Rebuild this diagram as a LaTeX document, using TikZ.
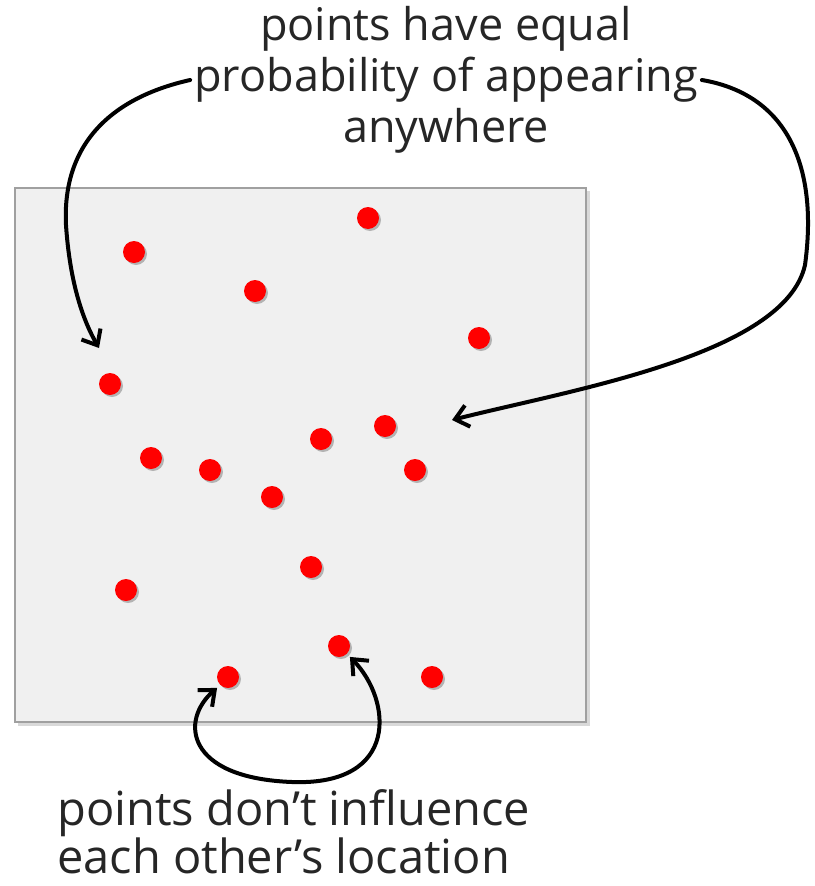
\documentclass[tikz,border=0pt]{standalone}
\usepackage{fontspec}
\setmainfont{Open Sans}
\usetikzlibrary{arrows.meta,shadows}
\begin{document}
\begin{tikzpicture}[x=1pt,y=-1pt,
  dot/.style={circle,fill=red,minimum size=22pt,inner sep=0pt,
    drop shadow={shadow xshift=2pt,shadow yshift=-2pt,opacity=0.25,fill=black}},
  arr/.style={line width=4pt,line cap=round,-{Straight Barb[length=13pt,width=22pt,line width=4pt]}},
  arrb/.style={line width=4pt,line cap=round,{Straight Barb[length=13pt,width=22pt,line width=4pt]}-{Straight Barb[length=13pt,width=22pt,line width=4pt]}},
  lbl/.style={inner sep=0pt,font=\fontsize{45}{51}\selectfont,text=black!85}
]
\useasboundingbox (0,0) rectangle (814,886);
% box with soft shadow
\fill[black!15] (18,191) rectangle (590,726);
\draw[fill={rgb,255:red,240;green,240;blue,240},draw={rgb,255:red,160;green,160;blue,160},line width=2.5pt] (15,188) rectangle (586,722);
% dots
\node[dot] (d1) at (368,218) {};
\node[dot] (d2) at (134,252) {};
\node[dot] (d3) at (255,291) {};
\node[dot] (d4) at (479,338) {};
\node[dot] (d5) at (110,384) {};
\node[dot] (d6) at (385,426) {};
\node[dot] (d7) at (321,439) {};
\node[dot] (d8) at (151,458) {};
\node[dot] (d9) at (210,470) {};
\node[dot] (d10) at (415,470) {};
\node[dot] (d11) at (272,497) {};
\node[dot] (d12) at (311,567) {};
\node[dot] (d13) at (126,590) {};
\node[dot] (d14) at (339,646) {};
\node[dot] (d15) at (228,677) {};
\node[dot] (d16) at (432,677) {};
% labels
\node[lbl,align=center] (t) at (446,80) {points have equal\\probability of appearing\\anywhere};
\node[lbl,align=left,anchor=west,font=\fontsize{47}{43}\selectfont] (b) at (57,832) {points don’t influence\\each other’s location};
% arrow targets
\coordinate (lt) at (99,348);
\coordinate (rt) at (452,420);
% arrows
\draw[arr] ([xshift=-4pt]t.west) .. controls (110,98) and (62,145) .. (66,225) .. controls (70,285) and (84,322) .. (lt);
\draw[arr] ([xshift=4pt]t.east) .. controls (790,95) and (818,170) .. (805,265) .. controls (785,355) and (570,390) .. (rt);
\draw[arrb] ([shift={(-3pt,-3pt)}]d15.south west) .. controls (180,720) and (185,778) .. (292,782) .. controls (400,786) and (392,700) .. ([shift={(3pt,-3pt)}]d14.south east);
\end{tikzpicture}
\end{document}
